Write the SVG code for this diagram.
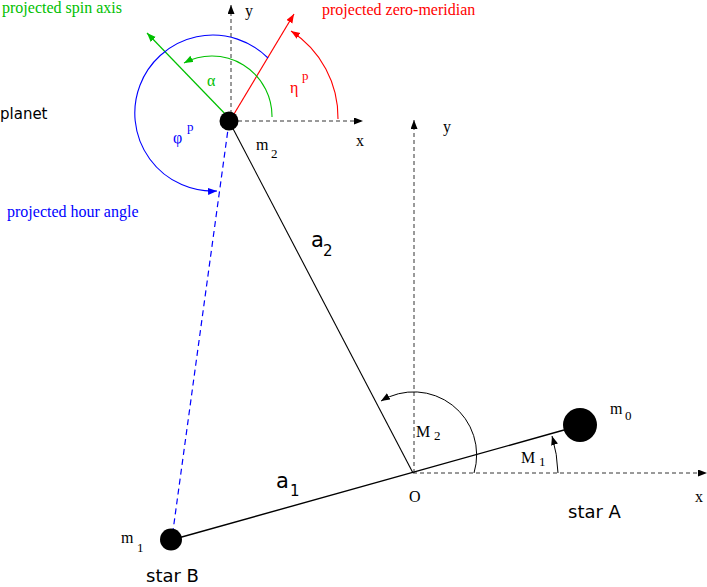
<svg xmlns="http://www.w3.org/2000/svg" width="707" height="587" viewBox="0 0 707 587">
<style>
.serif{font-family:"Liberation Serif","Times New Roman",serif;font-size:16px}
.sub{font-family:"Liberation Serif","Times New Roman",serif;font-size:13px}
.sans{font-family:"DejaVu Sans","Liberation Sans",sans-serif}
.axis{fill:none;stroke:#000;stroke-width:0.8;stroke-dasharray:4 3}
.thin{fill:none;stroke:#000;stroke-width:1}
.g{fill:#00c000}
.r{fill:#ff0000}
.b{fill:#0000ff}
</style>
<defs>
<marker id="ak" markerUnits="userSpaceOnUse" markerWidth="10" markerHeight="8" refX="9" refY="3.5" orient="auto"><path d="M0,0 L9,3.5 L0,7 z" fill="#000"/></marker>
<marker id="ag" markerUnits="userSpaceOnUse" markerWidth="10" markerHeight="8" refX="9" refY="3.5" orient="auto"><path d="M0,0 L9,3.5 L0,7 z" fill="#00c000"/></marker>
<marker id="ar" markerUnits="userSpaceOnUse" markerWidth="10" markerHeight="8" refX="9" refY="3.5" orient="auto"><path d="M0,0 L9,3.5 L0,7 z" fill="#ff0000"/></marker>
<marker id="ab" markerUnits="userSpaceOnUse" markerWidth="10" markerHeight="8" refX="9" refY="3.5" orient="auto"><path d="M0,0 L9,3.5 L0,7 z" fill="#0000ff"/></marker>
</defs>
<g id="connectors">
<line class="axis" x1="231" y1="121" x2="231" y2="5" marker-end="url(#ak)"/>
<line class="axis" x1="231" y1="121" x2="363" y2="121" marker-end="url(#ak)"/>
<line class="axis" x1="414" y1="473" x2="414" y2="120" marker-end="url(#ak)"/>
<line class="axis" x1="413" y1="473" x2="707" y2="473" marker-end="url(#ak)"/>
<line x1="229" y1="121" x2="413" y2="473" stroke="#000" stroke-width="1.1"/>
<line x1="171" y1="540" x2="564" y2="430" stroke="#000" stroke-width="1.4"/>
<line x1="229" y1="122" x2="172" y2="538" stroke="#0000ff" stroke-width="1.2" stroke-dasharray="6 4"/>
<line x1="230" y1="119" x2="147" y2="33" stroke="#00c000" stroke-width="1.2" marker-end="url(#ag)"/>
<line x1="231" y1="119" x2="294" y2="14" stroke="#ff0000" stroke-width="1.2" marker-end="url(#ar)"/>
<path d="M272,117 A60,60 0 0 0 184,63" fill="none" stroke="#00c000" stroke-width="1.1" marker-end="url(#ag)"/>
<path d="M338,119 A103,103 0 0 0 291,31" fill="none" stroke="#ff0000" stroke-width="1.1" marker-end="url(#ar)"/>
<path d="M268,58 A78,78 0 1 0 217,191" fill="none" stroke="#0000ff" stroke-width="1.1" marker-end="url(#ab)"/>
<path d="M474,473 A63,63 0 0 0 381,401" class="thin" stroke-width="0.8" marker-end="url(#ak)"/>
<path d="M558,473 A145,145 0 0 0 552,436" class="thin" stroke-width="0.8" marker-end="url(#ak)"/>
</g>
<g id="planet">
<circle cx="229" cy="121" r="9.5" fill="#000"/>
<text class="sans" x="0" y="119" font-size="15">planet</text>
<text class="serif" x="256" y="150">m<tspan class="sub" x="271" y="158">2</tspan></text>
</g>
<g id="starA">
<circle cx="580" cy="425" r="17" fill="#000"/>
<text class="sans" x="568" y="518" font-size="18">star A</text>
<text class="serif" x="610" y="414">m<tspan class="sub" x="625" y="420">0</tspan></text>
</g>
<g id="starB">
<circle cx="171" cy="539.5" r="11" fill="#000"/>
<text class="sans" x="146" y="582" font-size="18">star B</text>
<text class="serif" x="121" y="543">m<tspan class="sub" x="137" y="552">1</tspan></text>
</g>
<g id="labels">
<text class="serif g" x="2" y="13">projected spin axis</text>
<text class="serif r" x="322" y="14.5">projected zero-meridian</text>
<text class="serif b" x="7" y="217">projected hour angle</text>
<text class="serif g" x="207" y="86">α</text>
<text class="serif r" x="290" y="93">η<tspan class="sub" x="302" y="80">p</tspan></text>
<text class="serif b" x="173" y="143">φ<tspan class="sub" x="187" y="131">p</tspan></text>
<text class="serif" x="245" y="16">y</text>
<text class="serif" x="356" y="146">x</text>
<text class="serif" x="443" y="132">y</text>
<text class="serif" x="695" y="502">x</text>
<text class="serif" x="409" y="502">O</text>
<text class="sans" x="311" y="247" font-size="21">a<tspan font-size="15" x="323" y="256">2</tspan></text>
<text class="sans" x="276" y="488" font-size="21">a<tspan font-size="15" x="290" y="496">1</tspan></text>
<text class="serif" x="416" y="437">M<tspan class="sub" x="434" y="440">2</tspan></text>
<text class="serif" x="521" y="463">M<tspan class="sub" x="539" y="466">1</tspan></text>
</g>
</svg>
